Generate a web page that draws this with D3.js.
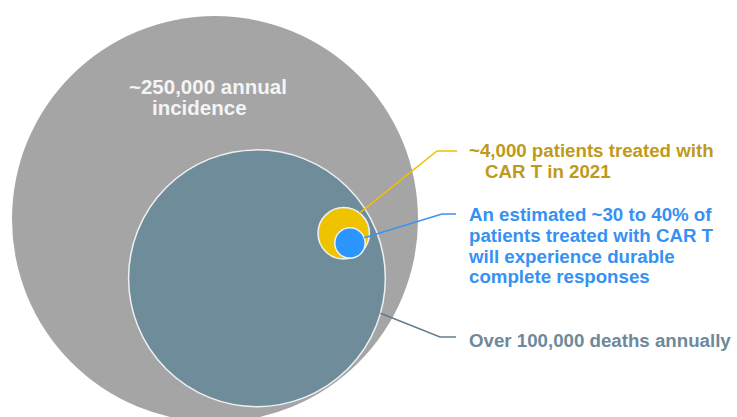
<!DOCTYPE html>
<html><head><meta charset="utf-8">
<script src="https://cdn.jsdelivr.net/npm/d3@7"></script>
<style>
html,body{margin:0;padding:0;background:#fff;}
svg{display:block;font-family:"Liberation Sans",Arial,sans-serif;font-weight:bold;}
</style></head>
<body>
<svg id="c" width="737" height="417"></svg>
<script>
// ---- data ----
const names = ["incidence", "deaths", "treated", "durable"];
const values = [250000, 100000, 4000, 1400];
const fills = ["#a5a5a5", "#6f8c9b", "#f0c300", "#2c96ff"];
const labelLines = [
  ["~250,000 annual", "incidence"],
  ["Over 100,000 deaths annually"],
  ["~4,000 patients treated with", "CAR T in 2021"],
  ["An estimated ~30 to 40% of", "patients treated with CAR T", "will experience durable", "complete responses"]
];
const textColors = ["#f4f4f4", "#6d899a", "#bf9a1a", "#3591f2"];
const lineColors = [null, "#607e90", "#f0c000", "#3a93f2"];

// ---- layout ----
const svg = d3.select("#c");
const r = d3.scaleSqrt().domain([0, 250000]).range([0, 203]);
// nesting: each circle placed inside its parent at an angle with a gap
const placement = [
  {parent: -1, cx: 215, cy: 219},
  {parent: 0, angle: 54.7, gap: 2},
  {parent: 1, angle: -27.4, gap: 5},
  {parent: 2, angle: 57, gap: -1}
];
const nodes = values.map((v, i) => ({name: names[i], value: v, r: r(v), fill: fills[i]}));
nodes.forEach((n, i) => {
  const p = placement[i];
  if (p.parent < 0) { n.x = p.cx; n.y = p.cy; }
  else {
    const par = nodes[p.parent];
    const d = par.r - n.r - p.gap, a = p.angle * Math.PI / 180;
    n.x = par.x + d * Math.cos(a); n.y = par.y + d * Math.sin(a);
  }
});

svg.selectAll("circle").data(nodes).join("circle")
  .attr("cx", d => d.x).attr("cy", d => d.y).attr("r", d => d.r)
  .attr("fill", d => d.fill)
  .attr("stroke", (d, i) => i === 0 ? "none" : "#eef1f3")
  .attr("stroke-width", 1.5);

// leader lines: start angle on circle, elbow point, end x
const leaders = [
  null,
  {startAngle: 15.8, elbow: [440, 337], endX: 456},
  {startAngle: -52, elbow: [437, 151], endX: 457},
  {startAngle: -20, elbow: [442, 214], endX: 456}
];
const lineGen = d3.line();
leaders.forEach((L, i) => {
  if (!L) return;
  const n = nodes[i], a = L.startAngle * Math.PI / 180;
  const pts = [[n.x + n.r * Math.cos(a), n.y + n.r * Math.sin(a)], L.elbow, [L.endX, L.elbow[1]]];
  svg.append("path").attr("d", lineGen(pts)).attr("fill", "none")
    .attr("stroke", lineColors[i]).attr("stroke-width", 1.5);
});

// labels
const labelPos = [
  {x: 129, y: 93.5, dy: 21, size: 20.5, indent: [0, 23]},
  {x: 469, y: 346.5, dy: 21, size: 18.7, indent: [0]},
  {x: 469, y: 157, dy: 20.5, size: 18.7, indent: [0, 16]},
  {x: 469, y: 221, dy: 20.8, size: 18.7, indent: [0, 0, 0, 0]}
];
labelLines.forEach((lines, i) => {
  const P = labelPos[i];
  const t = svg.append("text").attr("fill", textColors[i]).attr("font-size", P.size);
  lines.forEach((s, j) => {
    t.append("tspan").attr("x", P.x + P.indent[j]).attr("y", P.y + j * P.dy).text(s);
  });
});
</script>
</body></html>
